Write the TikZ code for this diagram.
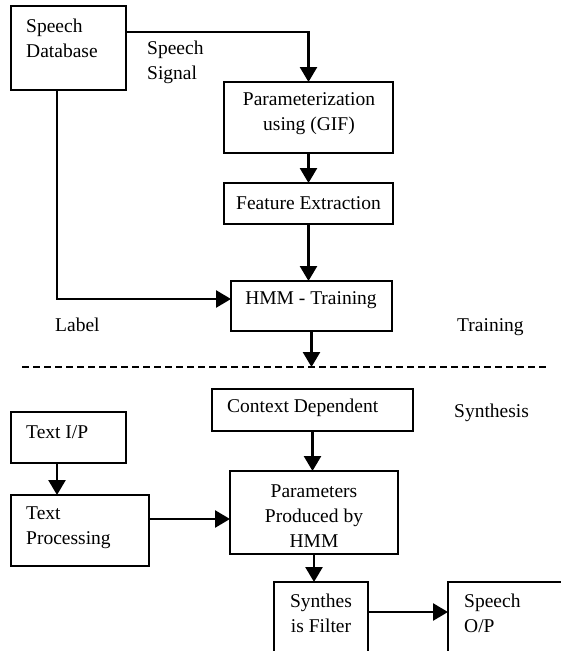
\documentclass[tikz,border=0pt]{standalone}
\usepackage{fontspec}
\setmainfont{Liberation Serif}
\usetikzlibrary{arrows.meta}
\tikzset{
  box/.style={draw=black, line width=1.6pt, inner sep=0pt, outer sep=0pt},
  txt/.style={inner sep=0pt, font=\fontsize{19.5}{25}\selectfont},
  arr/.style={line width=2.6pt, -{Triangle[width=17pt,length=15pt]}},
  dline/.style={line width=1.6pt, dash pattern=on 6.5pt off 4.5pt},
}
\begin{document}
\begin{tikzpicture}[x=1pt, y=-1pt]
\useasboundingbox (0,0) rectangle (561,651);
\clip (0,0) rectangle (561,651);
% boxes
\node[box, minimum width=115pt, minimum height=84pt] (db) at (68.5,48) {};
\node[box, minimum width=169pt, minimum height=71pt] (param) at (308.5,117.5) {};
\node[box, minimum width=169pt, minimum height=41pt] (feat) at (308.5,203.5) {};
\node[box, minimum width=161pt, minimum height=50pt] (hmm) at (311.5,306) {};
\node[box, minimum width=201pt, minimum height=42pt] (ctx) at (312.5,410) {};
\node[box, minimum width=115pt, minimum height=51pt] (textip) at (68.5,437.5) {};
\node[box, minimum width=138pt, minimum height=71pt] (tproc) at (80,530.5) {};
\node[box, minimum width=168pt, minimum height=83pt] (params) at (314,512.5) {};
\node[box, minimum width=94pt, minimum height=98pt] (synth) at (321,631) {};
\node[box, minimum width=117pt, minimum height=98pt] (spout) at (506.5,631) {};
% texts
\node[txt, anchor=west, align=left] (tdb) at (26,38.5) {Speech\\Database};
\node[txt, anchor=center, align=center] (tparam) at (309,114) {Parameterization\\using (GIF)};
\node[txt, anchor=center] (tfeat) at (308.5,203) {Feature Extraction};
\node[txt, anchor=center] (thmm) at (311,300) {HMM - Training};
\node[txt, anchor=west] (tctx) at (227,408) {Context Dependent};
\node[txt, anchor=west] (ttip) at (26,432) {Text I/P};
\node[txt, anchor=west, align=left] (ttproc) at (26,527.5) {Text\\Processing};
\node[txt, anchor=center, align=center] (tparams) at (314,516) {Parameters\\Produced by\\HMM};
\node[txt, anchor=center, align=center] (tsynth) at (321,613.5) {Synthes\\is Filter};
\node[txt, anchor=west, align=left] (tspout) at (464,613.5) {Speech\\O/P};
% free labels
\node[txt, anchor=west, align=left] (lsig) at (147,62.5) {Speech\\Signal};
\node[txt, anchor=west] (llab) at (55,325) {Label};
\node[txt, anchor=west] (ltrain) at (457,327) {Training};
\node[txt, anchor=west] (lsyn) at (454,413) {Synthesis};
% helper coordinates
\path (db.north east) ++(0,26) coordinate (dbout);
\path (db.south west) ++(46,0) coordinate (dblab);
\path (hmm.west) ++(0,-7) coordinate (hmmin);
\path (textip.south west) ++(46,0) coordinate (tipout);
\path (tproc.east) ++(0,-11.5) coordinate (tpout);
\path (synth.east) ++(0,-19) coordinate (syout);
\coordinate (dl) at (22,367);
\coordinate (dr) at (547,367);
% connectors
\draw[arr] (dbout) -| (param.north);
\draw[arr] (param.south) -- (param.south |- feat.north);
\draw[arr] (feat.south) -- (feat.south |- hmm.north);
\draw[arr] (dblab) |- (hmmin);
\draw[arr] (hmm.south) -- (hmm.south |- dl);
\draw[dline] (dl) -- (dr);
\draw[arr] (ctx.south) -- (ctx.south |- params.north);
\draw[arr] (tipout) -- (tipout |- tproc.north);
\draw[arr] (tpout) -- (tpout -| params.west);
\draw[arr] (params.south) -- (params.south |- synth.north);
\draw[arr] (syout) -- (syout -| spout.west);
\end{tikzpicture}
\end{document}
